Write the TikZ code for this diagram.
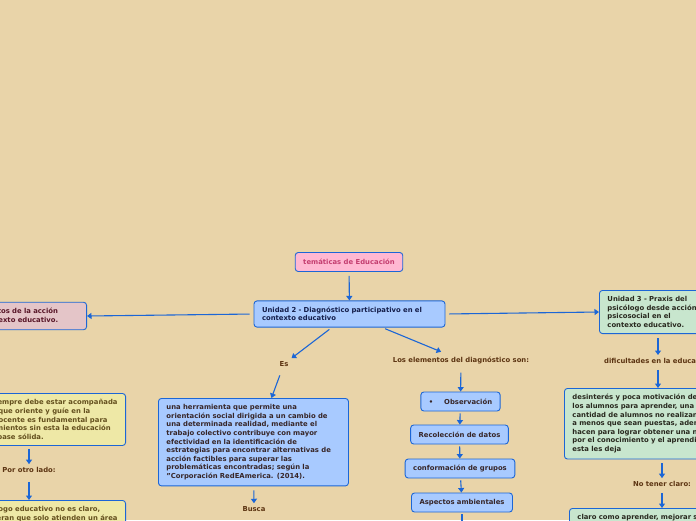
\documentclass[tikz,border=0pt]{standalone}
\usepackage{fontspec}
\setmainfont{DejaVu Sans}
\usepackage{xcolor}
\usepackage{tikz}
\usetikzlibrary{arrows.meta, positioning}
\definecolor{mapbg}{RGB}{233, 212, 169}
\definecolor{linkblue}{RGB}{28, 102, 214}
\definecolor{pinkfill}{RGB}{255, 184, 210}
\definecolor{pinktext}{RGB}{196, 62, 112}
\definecolor{bluefill}{RGB}{168, 202, 255}
\definecolor{rosefill}{RGB}{228, 197, 200}
\definecolor{greenfill}{RGB}{200, 230, 206}
\definecolor{yellowfill}{RGB}{238, 232, 166}
\definecolor{labeltext}{RGB}{92, 52, 18}
\definecolor{boxtext}{RGB}{55, 38, 40}
\newcommand{\mapsize}{\fontsize{6.85}{8.6}\selectfont\bfseries}
\newlength{\unowidth}

\tikzset{
  mapfont/.style={font=\mapsize},
  topicbox/.style={mapfont, draw=linkblue, line width=0.9pt, rounded corners=3pt,
    inner xsep=8pt, inner ysep=6pt, minimum height=19pt, align=left},
  bluebox/.style={topicbox, fill=bluefill, text=boxtext},
  pinkbox/.style={topicbox, fill=pinkfill, text=pinktext},
  rosebox/.style={topicbox, fill=rosefill, text={rgb,255:red,88;green,22;blue,40}},
  greenbox/.style={topicbox, fill=greenfill, text={rgb,255:red,40;green,40;blue,30}},
  yellowbox/.style={topicbox, fill=yellowfill, text={rgb,255:red,100;green,80;blue,30}},
  plainlabel/.style={mapfont, text=labeltext, inner sep=3pt},
  link/.style={draw=linkblue, line width=1.1pt, -{Triangle[length=4.5pt,width=6pt]}}
}

\begin{document}
\settowidth{\unowidth}{\mapsize Unidad 1 - Fundamentos de la acción}%
\addtolength{\unowidth}{20pt}%
\begin{tikzpicture}[x=1pt,y=-1pt]
\clip (0,0) rectangle (696,520);
\fill[mapbg] (0,0) rectangle (696,520);

% centre of the map
\node[pinkbox] (tema) at (349,262) {temáticas de Educación};
\node[bluebox, text width=175pt, text={rgb,255:red,20;green,30;blue,75}] (unidad2) at (349.5,314)
  {Unidad 2 - Diagnóstico participativo en el\\contexto educativo};
\node[rosebox, anchor=east, text width=\unowidth] (unidad1) at (87,316)
  {Unidad 1 - Fundamentos de la acción\\psicosocial en el contexto educativo.};
\node[greenbox, anchor=north west, text width=102pt] (unidad3) at (599,290)
  {Unidad 3 - Praxis del\\psicólogo desde acción\\psicosocial en el\\contexto educativo.};

% branch of unidad 3
\node[plainlabel, anchor=west] (dificultades) at (601,361) {dificultades en la educación:};
\node[greenbox, anchor=north west, text width=200pt] (desinteres) at (564,388)
  {desinterés y poca motivación de\\los alumnos para aprender, una gran\\cantidad de alumnos no realizan tareas\\a menos que sean puestas, además las\\hacen para lograr obtener una nota y no\\por el conocimiento y el aprendizaje que\\esta les deja};
\node[plainlabel] (notener) at (662,484) {No tener claro:};
\node[greenbox, anchor=north west, text width=190pt] (claro) at (569,508)
  {claro como aprender, mejorar su\\rendimiento};

% branch "Es"
\node[plainlabel] (es) at (284,364) {Es};
\node[bluebox, anchor=north west, text width=174pt] (herramienta) at (158,398)
  {una herramienta que permite una\\orientación social dirigida a un cambio de\\una determinada realidad, mediante el\\trabajo colectivo contribuye con mayor\\efectividad en la identificación de\\estrategias para encontrar alternativas de\\acción factibles para superar las\\problemáticas encontradas; según la\\"Corporación RedEAmerica. (2014).};
\node[plainlabel] (busca) at (254,509) {Busca};

% elementos del diagnostico
\node[plainlabel] (elementos) at (461,360) {Los elementos del diagnóstico son:};
\node[bluebox] (observacion) at (460.5,401.5) {\textbullet\hspace{11pt}Observación};
\node[bluebox] (recoleccion) at (459.5,434.5) {Recolección de datos};
\node[bluebox] (grupos) at (460,468.5) {conformación de grupos};
\node[bluebox] (ambientales) at (462,502.5) {Aspectos ambientales};
\coordinate (ambfin) at (462,530);

% branch of unidad 1
\node[yellowbox, anchor=east] (siempre) at (126,419.5)
  {La educación siempre debe estar acompañada\\de un docente, que oriente y guíe en la\\enseñanza, el docente es fundamental para\\adquirir conocimientos sin esta la educación\\no tendría una base sólida.};
\node[plainlabel] (otrolado) at (29,470) {Por otro lado:};
\node[yellowbox, anchor=north east] (rol) at (126,500)
  {El rol del psicólogo educativo no es claro,\\muchos consideran que solo atienden un área};

% connectors
\draw[link, shorten <=4pt] (tema) -- (unidad2);
\draw[link, shorten <=4pt] (unidad2.west) -- (unidad1.east);
\draw[link, shorten <=4pt] (unidad2.east) -- (unidad3.west);
\draw[link, shorten <=4pt] ([xshift=59pt]unidad3.south west) -- ([xshift=59pt]unidad3.south west |- dificultades.north);
\draw[link, shorten <=3pt] ([xshift=94pt]desinteres.north west |- dificultades.south) -- ([xshift=94pt]desinteres.north west);
\draw[link, shorten <=4pt] (notener.north |- desinteres.south) -- (notener.north);
\draw[link, shorten <=3pt] (notener.south) -- (notener.south |- claro.north);
\draw[link, shorten <=3pt] (unidad2) -- (es);
\draw[link, shorten <=6pt] (es) -- ([xshift=18pt]herramienta.north);
\draw[link, shorten <=4pt] (herramienta) -- (busca);
\draw[link, shorten <=3pt, shorten >=4pt] (unidad2) -- (elementos);
\draw[link, shorten <=6pt] (elementos) -- (observacion);
\draw[link, shorten <=2pt] (observacion) -- (recoleccion);
\draw[link, shorten <=2pt] (recoleccion) -- (grupos);
\draw[link, shorten <=2pt] (grupos) -- (ambientales);
\draw[link, shorten <=2pt] (ambientales) -- (ambfin);
\draw[link, shorten <=3pt] (otrolado.north |- siempre.south) -- (otrolado.north);
\draw[link, shorten <=6pt] (otrolado) -- (otrolado.south |- rol.north);
\end{tikzpicture}
\end{document}
